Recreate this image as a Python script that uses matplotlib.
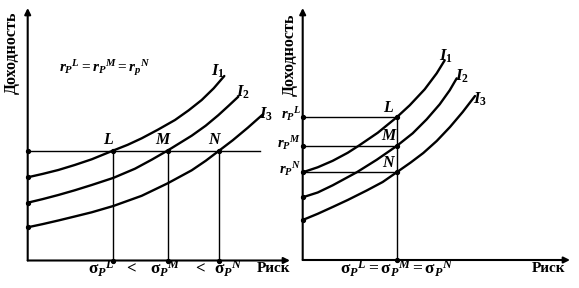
import matplotlib.pyplot as plt

plt.rcParams['font.family'] = 'Liberation Serif'
plt.rcParams['mathtext.fontset'] = 'custom'
plt.rcParams['mathtext.rm'] = 'Liberation Serif:bold'
plt.rcParams['mathtext.it'] = 'Liberation Serif:italic:bold'
plt.rcParams['mathtext.bf'] = 'Liberation Serif:bold'

# ---- left panel: same return, different risk ----
level_left = 11.0
risk_left = [8.56, 14.0, 19.16]        # sigma_P^L, sigma_P^M, sigma_P^N
i1_left_x = [0, 1.5, 3.06, 4.7, 6.4, 8.56, 10.0, 11.4, 13.0, 14.73, 16.1, 17.4, 18.6, 19.66]
i1_left_y = [8.32, 8.66, 9.05, 9.55, 10.12, 11.0, 11.57, 12.22, 13.07, 14.05, 15.02, 16.05, 17.22, 18.45]
i2_left_x = [0, 1.5, 3.06, 4.7, 6.4, 8.56, 10.73, 12.4, 14.0, 16.4, 17.8, 19.06, 20.1, 21.06]
i2_left_y = [5.78, 6.14, 6.55, 7.02, 7.55, 8.26, 9.18, 10.08, 11.0, 12.48, 13.48, 14.53, 15.48, 16.38]
i3_left_x = [0, 1.5, 3.06, 4.7, 6.4, 8.56, 11.4, 14.0, 16.4, 17.8, 19.16, 20.5, 22.0, 23.56]
i3_left_y = [3.32, 3.64, 4.0, 4.4, 4.82, 5.45, 6.47, 7.72, 9.02, 9.97, 11.0, 12.02, 13.27, 14.65]

# ---- right panel: same risk, different return ----
risk_right = 9.4
levels_right = [14.27, 11.4, 8.77]     # r_P^L, r_P^M, r_P^N
i1_right_x = [0, 1.5, 3.0, 4.5, 5.56, 7.5, 9.4, 10.7, 12.2, 13.4, 14.2]
i1_right_y = [8.77, 9.27, 9.92, 10.72, 11.4, 12.72, 14.27, 15.47, 17.07, 18.67, 19.97]
i2_right_x = [0, 1.5, 3.0, 5.4, 7.4, 9.4, 11.0, 12.4, 13.7, 14.7, 15.4]
i2_right_y = [6.27, 6.75, 7.47, 8.77, 10.02, 11.4, 12.67, 14.07, 15.57, 16.97, 18.17]
i3_right_x = [0, 1.5, 3.06, 4.5, 6.4, 8.0, 9.4, 10.8, 12.06, 13.4, 14.73, 16.0, 17.23]
i3_right_y = [4.0, 4.62, 5.33, 6.0, 6.95, 7.8, 8.77, 9.75, 10.7, 11.9, 13.3, 14.8, 16.4]

point_names = ['L', 'M', 'N']

W, H = 579, 288
fig = plt.figure(figsize=(W / 100, H / 100), dpi=100)
axl = fig.add_axes([27.7 / W, 27.5 / H, 262.3 / W, 252.5 / H])
axr = fig.add_axes([302.7 / W, 28 / H, 267.3 / W, 252 / H])
axl.set_xlim(0, 26.23)
axl.set_ylim(0, 25.25)
axr.set_xlim(0, 26.73)
axr.set_ylim(0, 25.2)

for ax in (axl, axr):
    ax.axis('off')
    x0, x1 = ax.get_xlim()
    y0, y1 = ax.get_ylim()
    arrow = dict(arrowstyle='-|>', lw=1.5, color='k', mutation_scale=9,
                 shrinkA=0, shrinkB=0)
    ax.annotate('', xy=(0, y1), xytext=(0, 0), arrowprops=arrow, annotation_clip=False)
    ax.annotate('', xy=(x1, 0), xytext=(0, 0), arrowprops=arrow, annotation_clip=False)

curve_kw = dict(color='k', lw=1.7, solid_capstyle='round', solid_joinstyle='round', clip_on=False)
line_kw = dict(color='k', lw=1.0, clip_on=False)
dot_kw = dict(color='k', marker='o', ms=2.8, ls='none', clip_on=False, zorder=5)
bold = dict(fontweight='bold')

# left panel drawing
axl.plot(i1_left_x, i1_left_y, **curve_kw)
axl.plot(i2_left_x, i2_left_y, **curve_kw)
axl.plot(i3_left_x, i3_left_y, **curve_kw)
axl.plot([0, 23.2], [level_left, level_left], **line_kw)
for r in risk_left:
    axl.plot([r, r], [0, level_left], **line_kw)
axl.plot(risk_left, [level_left] * 3, **dot_kw)
axl.plot(risk_left, [0] * 3, **dot_kw)
axl.plot([0, 0, 0, 0], [i1_left_y[0], i2_left_y[0], i3_left_y[0], level_left], **dot_kw)

for r, name in zip(risk_left, point_names):
    axl.text(r - 0.5, level_left + 0.25, name, style='italic', fontsize=11.5,
             ha='center', va='bottom', **bold)
axl.text(7.7, 19.2, r'$r_P{}^L = r_P{}^M = r_p{}^N$', fontsize=11, ha='center', va='center')
axl.text(19.0, 18.9, r'$I_1$', fontsize=12, ha='center', va='center')
axl.text(21.5, 16.8, r'$I_2$', fontsize=12, ha='center', va='center')
axl.text(23.8, 14.6, r'$I_3$', fontsize=12, ha='center', va='center')
axl.text(-1.55, 20.8, 'Доходность', rotation=90, fontsize=11.5, ha='center', va='center', **bold)

xl_y = -0.85
axl.text(risk_left[0] - 1.2, xl_y, r'$\mathrm{\sigma}_P{}^L$', fontsize=12.5, ha='center', va='center')
axl.text(10.3, xl_y, '<', fontsize=12, ha='center', va='center', **bold)
axl.text(risk_left[1] - 0.2, xl_y, r'$\mathrm{\sigma}_P{}^M$', fontsize=12.5, ha='center', va='center')
axl.text(17.2, xl_y, '<', fontsize=12, ha='center', va='center', **bold)
axl.text(risk_left[2] + 0.9, xl_y, r'$\mathrm{\sigma}_P{}^N$', fontsize=12.5, ha='center', va='center')
axl.text(24.6, xl_y, 'Риск', fontsize=11, ha='center', va='center', **bold)

# right panel drawing
axr.plot(i1_right_x, i1_right_y, **curve_kw)
axr.plot(i2_right_x, i2_right_y, **curve_kw)
axr.plot(i3_right_x, i3_right_y, **curve_kw)
for lv in levels_right:
    axr.plot([0, risk_right], [lv, lv], **line_kw)
axr.plot([risk_right, risk_right], [0, levels_right[0]], **line_kw)
axr.plot([risk_right] * 4, levels_right + [0], **dot_kw)
axr.plot([0] * 5, levels_right + [i2_right_y[0], i3_right_y[0]], **dot_kw)

for lv, name in zip(levels_right, point_names):
    axr.text(risk_right - 0.85, lv + 0.15, name, style='italic', fontsize=11.5,
             ha='center', va='bottom', **bold)
    axr.text(-0.15, lv + 0.3, r'$r_P{}^%s$' % name, fontsize=10.5, ha='right', va='center')
axr.text(14.3, 20.4, r'$I_1$', fontsize=12, ha='center', va='center')
axr.text(15.9, 18.4, r'$I_2$', fontsize=12, ha='center', va='center')
axr.text(17.7, 16.1, r'$I_3$', fontsize=12, ha='center', va='center')
axr.text(-1.3, 20.5, 'Доходность', rotation=90, fontsize=11.5, ha='center', va='center', **bold)
axr.text(risk_right, -0.9, r'$\mathrm{\sigma}_P{}^L = \mathrm{\sigma}_P{}^M = \mathrm{\sigma}_P{}^N$',
         fontsize=12.5, ha='center', va='center')
axr.text(24.6, -0.9, 'Риск', fontsize=11, ha='center', va='center', **bold)

fig.savefig('out.png', dpi=100)
